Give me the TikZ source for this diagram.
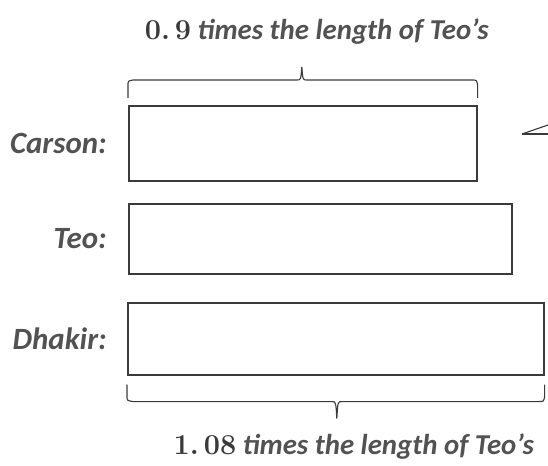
\documentclass[tikz,border=0pt]{standalone}
\usepackage{fontspec}
\setsansfont{Carlito}[BoldFont={Carlito Bold}, BoldItalicFont={Carlito Bold Italic}]
\usepackage{tikz}
\usetikzlibrary{positioning, calc}
\definecolor{labelgray}{HTML}{525252}
\definecolor{linegray}{HTML}{3A3A3A}
\tikzset{
	barnode/.style={
			shape=rectangle,
			draw=linegray,
			line width=1.1pt,
			minimum height=18mm,
			inner sep=0pt,
			anchor=north west
		},
	namelabel/.style={
			font=\fontsize{22}{24}\selectfont\sffamily\bfseries\itshape,
			text=labelgray,
			inner sep=0pt
		},
	notelabel/.style={
			namelabel,
			font=\fontsize{20.5}{23}\selectfont\sffamily\bfseries\itshape
		},
	bracket/.style={
			draw=linegray,
			line width=0.8pt
		}
}
\newcommand{\numtxt}[1]{{\rmfamily\bfseries\upshape\color{linegray}#1}}

\begin{document}
\begin{tikzpicture}[x=0.025cm, y=-0.025cm]
				\useasboundingbox (0,0) rectangle (548,466);

				\node[barnode, minimum width=87mm, minimum height=18.75mm] (carson) at (128,105) {};
				\node[barnode, minimum width=95.75mm, minimum height=17.5mm] (teo) at (128,203) {};
				\node[barnode, minimum width=104mm, minimum height=18mm] (dhakir) at (127,302) {};

				\node[namelabel, left=5.25mm of carson] {Carson:};
				\node[namelabel, left=5.25mm of teo] {Teo:};
				\node[namelabel, left=5mm of dhakir] {Dhakir:};

				% brackets
				\draw[bracket] ($(carson.north west)+(0,-7)$) -- ++(0,-13) .. controls ++(0,-4) .. ++(5,-5)
					-- ($(carson.north)+(-6,-25)$) .. controls ++(4,0) .. ++(5,-13) .. controls ++(1,13) .. ++(5,13)
					-- ($(carson.north east)+(-6,-25)$) .. controls ++(5,0) .. ++(6,5) -- ++(0,13);
				\draw[bracket] ($(dhakir.south west)+(0,9)$) -- ++(0,12) .. controls ++(0,4) .. ++(6,5)
					-- ($(dhakir.south)+(-4,26)$) .. controls ++(4,0) .. ++(5,17) .. controls ++(1,-17) .. ++(5,-17)
					-- ($(dhakir.south east)+(-6,26)$) .. controls ++(5,0) .. ++(6,-5) -- ++(0,-12);

				\coordinate (tip) at (522,134);
				\draw[bracket] (tip) -- (548,125);
				\draw[bracket] (tip) -- (548,134);

				\node[notelabel, above=15mm of carson.north, xshift=3.5mm] (toptext) {\numtxt{0.\,9} times the length of Teo's};
				\node[notelabel, below=14.5mm of dhakir.south, xshift=4.5mm] (bottomtext) {\numtxt{1.\,08} times the length of Teo's};

			\end{tikzpicture}
\end{document}
